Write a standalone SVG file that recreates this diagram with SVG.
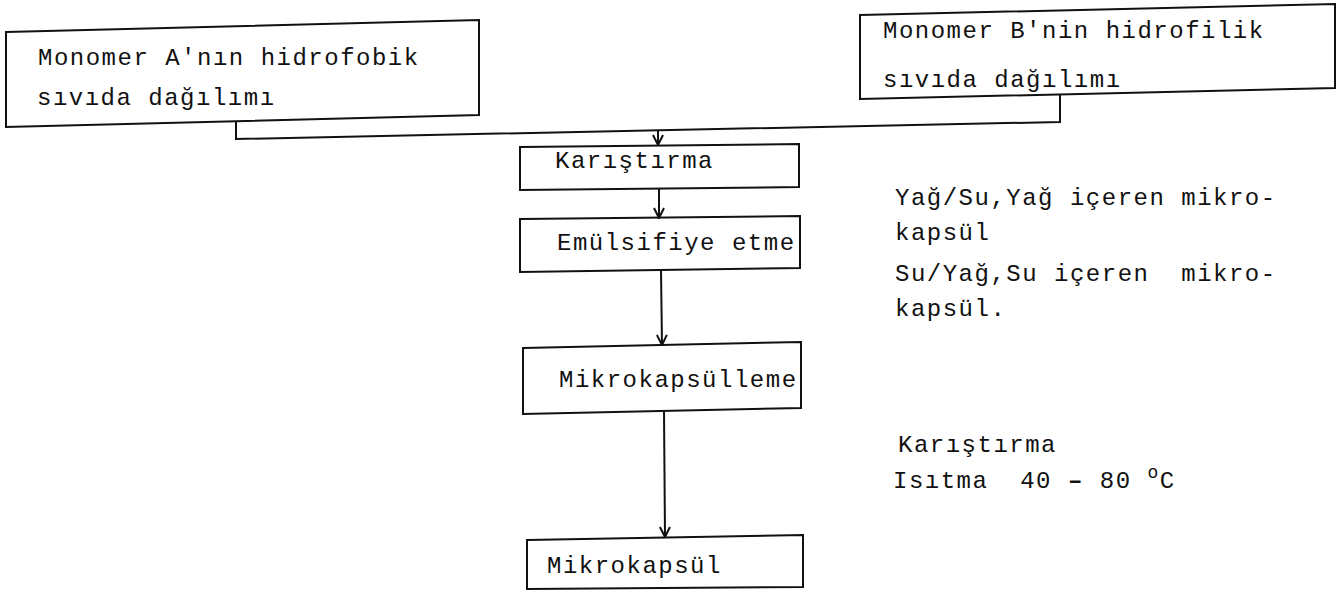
<svg xmlns="http://www.w3.org/2000/svg" width="1338" height="590" viewBox="0 0 1338 590">
<defs>
<style>
.box{fill:none;stroke:#111;stroke-width:2;stroke-linejoin:miter}
.t{font-family:"Liberation Mono","Courier New",monospace;font-size:24px;letter-spacing:1.5px;fill:#111;white-space:pre}
.c{fill:none;stroke:#111;stroke-width:2}
.a{fill:none;stroke:#111;stroke-width:2;marker-end:url(#arr)}
</style>
<marker id="arr" viewBox="0 0 12 12" refX="11" refY="6" markerWidth="12" markerHeight="12" orient="auto" markerUnits="userSpaceOnUse">
<path d="M1,1 L11,6 L1,11" fill="none" stroke="#111" stroke-width="2"/>
</marker>
</defs>
<rect width="1338" height="590" fill="#fff"/>
<g id="connectors">
<polyline class="c" points="236,122 236,139 1060,122 1060,94"/>
<line class="a" x1="658" y1="130" x2="658" y2="145"/>
<line class="a" x1="659" y1="189" x2="659" y2="218"/>
<line class="a" x1="661" y1="270" x2="662" y2="345"/>
<line class="a" x1="664" y1="411" x2="665" y2="537"/>
</g>
<g id="nodeA">
<polygon class="box" points="6,32 479,20 479,115 6,127"/>
<text class="t" x="38" y="65">Monomer A'nın hidrofobik</text>
<text class="t" x="37" y="105">sıvıda dağılımı</text>
</g>
<g id="nodeB">
<polygon class="box" points="860,15 1335,4 1335,88 860,99"/>
<text class="t" x="883" y="38">Monomer B'nin hidrofilik</text>
<text class="t" x="883" y="87">sıvıda dağılımı</text>
</g>
<g id="karistirma">
<polygon class="box" points="520,147 799,144 799,187 520,190"/>
<text class="t" x="555" y="168">Karıştırma</text>
</g>
<g id="emulsifiye">
<polygon class="box" points="520,219 800,216 800,268 520,272"/>
<text class="t" x="557" y="250">Emülsifiye etme</text>
</g>
<g id="mikrokapsulleme">
<polygon class="box" points="523,348 801,342 801,408 523,414"/>
<text class="t" x="559" y="387">Mikrokapsülleme</text>
</g>
<g id="mikrokapsul">
<polygon class="box" points="527,540 803,535 803,587 527,589"/>
<text class="t" x="547" y="573">Mikrokapsül</text>
</g>
<g id="annotations">
<text class="t" x="895" y="205">Yağ/Su,Yağ içeren mikro-</text>
<text class="t" x="895" y="240">kapsül</text>
<text class="t" x="895" y="281" xml:space="preserve">Su/Yağ,Su içeren  mikro-</text>
<text class="t" x="895" y="316">kapsül.</text>
<text class="t" x="898" y="452">Karıştırma</text>
<text class="t" x="893" y="488" xml:space="preserve">Isıtma  40 <tspan font-weight="bold">–</tspan> 80 <tspan dy="-10" font-size="18">o</tspan><tspan dy="10">C</tspan></text>
</g>
</svg>
